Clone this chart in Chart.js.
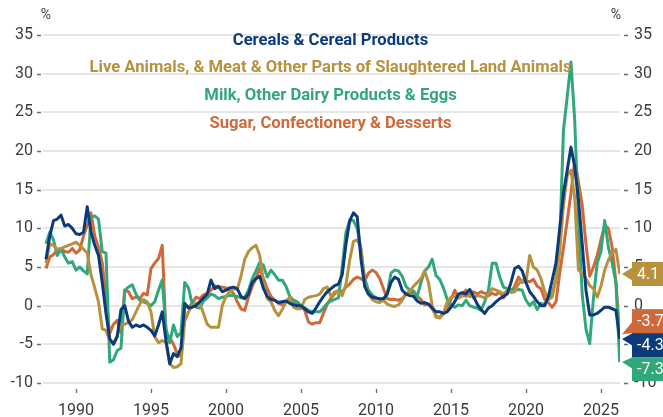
<!DOCTYPE html>
<html>
<head>
<meta charset="utf-8">
<script src="https://cdn.jsdelivr.net/npm/chart.js@4.4.1/dist/chart.umd.min.js"></script>
<style>
  html, body { margin: 0; padding: 0; background: #fff; }
</style>
</head>
<body>
<canvas id="chart" width="663" height="417"></canvas>
<script>
// Quarterly readings, first point = 1988 Q1, one row per year
const firstYear = 1988;

const seriesNames = [
    'Cereals & Cereal Products',
    'Live Animals, & Meat & Other Parts of Slaughtered Land Animals',
    'Milk, Other Dairy Products & Eggs',
    'Sugar, Confectionery & Desserts'
];

const seriesColors = ['#0c3b7c', '#b8913f', '#30a87a', '#d0693a'];

const cereals = [
    6, 9, 11, 11.2,   11.7, 10.3, 10.5, 10,   9.3, 9.2, 9.5, 12.8,   9.5, 7.8, 6.5, 3,
    -1, -4.3, -5, -4,   -0.5, 0, -2, -2.8,   -2.5, -2.7, -2.5, -2.8,   -3.2, -3.9, -2.5, -0.8,
    -4.5, -7.5, -6.2, -6.6,   -5.5, 0.3, -0.3, -0.2,   0, 0.5, 1, 1.5,   3.3, 2.2, 2.5, 1.8,
    2, 2.3, 2.4, 2.2,   1.2, 0.9, 1.5, 3,   3.5, 3.8, 2.2, 1.2,   0.8, 0.7, 0.4, 0.5,
    0.6, 0.3, 0.1, 0,   0, -0.4, -0.8, -1,   -0.3, 0.5, 1.2, 1.8,   2.2, 2.6, 2.8, 4,
    8, 11, 12, 11.5,   6, 2.5, 1.5, 1.1,   1, 0.9, 0.9, 1.5,   3, 3.7, 3.4, 2,
    1.5, 1.3, 1.2, 0.6,   0.3, 0.4, 0.2, -0.3,   -0.8, -0.8, -1, -0.8,   -0.2, 0.5, 1.5, 1.7,
    1.5, 2.1, 1.2, 0.2,   -0.5, -1, -0.3, 0,   0.5, 0.9, 1.2, 1.5,   3, 4.8, 5.1, 4.5,
    3, 1.8, 1.2, 0.5,   0, 0, 1.2, 3.3,   5.5, 10, 14.5, 17.5,   20.5, 18, 13.7, 8,
    2, -1.2, -1.2, -1,   -0.6, -0.2, -0.2, -0.4,   -0.6, -4.3
];

const liveAnimals = [
    5.5, 8, 7.8, 7.3,   7.4, 7.6, 7.8, 8,   8.2, 7.8, 7.3, 6.8,   4, 2.3, 0.5, -3,
    -3.2, -4.5, -4.9, -3.8,   -2.5, -2.4, -2.2, -1.8,   -0.8, 0.2, 0.8, 0.5,   -0.8, -4, -4.8, -4.5,
    -4.8, -7.5, -8, -7.9,   -7.5, -2, -0.8, 0,   0.3, 0.3, -1, -2.4,   -2.8, -2.8, -2.8, 0,
    1.2, 1.8, 2.2, 2.1,   3.8, 6, 7, 7.5,   7.8, 6.5, 3, 0.9,   0.5, -0.6, -1.3, -0.5,
    0.5, 1.1, -0.2, -0.4,   -0.4, 0.8, 1.1, 1.2,   1.3, 1.5, 2.2, 2.4,   1.2, 1.8, 1.8, 1.3,
    2.8, 5.9, 8.3, 8.5,   7.5, 2.5, 1.5, 0.8,   0.5, 0.4, 0.7, 0.2,   0, -0.1, 0.1, 0.7,
    1.5, 1.9, 2.5, 3,   3.5, 4.5, 3, 0,   -1.5, -1.5, -1, 0.5,   1.1, 1.2, 1, 1.3,
    1.2, 1.5, 1, 1.3,   1.2, 1, 1.5, 2.2,   2, 1.8, 1.5, 2,   1.7, 1.8, 2.8, 3.3,
    3, 6.5, 5, 4.6,   3.5, 1.8, 0.8, 1.1,   3.5, 7, 13, 16.8,   17.5, 14, 4.6, 4.2,
    3.5, 2.6, 2.2, 1.1,   2.5, 4.6, 5.9, 6.8,   7.3, 4.1
];

const dairy = [
    8, 9.5, 8.5, 6.5,   7.3, 6.3, 5.5, 5.7,   4.6, 5, 4.5, 4.1,   11.5, 11.6, 11.2, 7,
    6.8, -7.3, -7, -5.8,   -5.5, 2, 2.4, 2.7,   1.5, 0.7, 0.5, 0.3,   0, 0.5, 2, 3.3,
    -3, -4.8, -2.5, -4,   -3.5, 3, 2.3, 0.2,   -0.2, -0.3, 0.6, 1,   1.5, 1.3, 0.9, 1.1,
    1.2, 1.3, 1.3, 1.2,   1, 1.1, 2, 3.5,   4.5, 5.6, 5.2, 3.7,   4.6, 4, 3.3, 3.3,
    2.5, 1.2, 0.7, 0.5,   0, -0.3, -0.6, -0.8,   -0.8, -0.8, -0.3, 0.3,   0.6, 0.8, 1, 5,
    9.5, 11, 11, 10,   7.2, 3.5, 2, 1.4,   1, 0.8, 0.7, 1.5,   4.2, 4.6, 4.5, 3.8,
    2.5, 2, 1.9, 1.2,   3, 4.5, 5, 6,   3.9, 3.4, 2.3, 0.8,   0.1, -0.2, 0.1, 0,
    0.7, 0, -0.2, -0.3,   -0.6, 0.5, 2, 5.5,   5.5, 3.7, 2.4, 2.2,   2.1, 2, 2.1, 2,
    0.7, 0, 0.5, -0.5,   0.3, 0.2, 0.8, 1.6,   3.3, 8, 22.7, 27,   31.5, 24, 11, 1.5,
    -3, -4.9, 1, 5.5,   7, 11, 7.5, 5.5,   3, -7.3
];

const sugar = [
    4.8, 6.3, 6.6, 7.2,   7.4, 7, 6.9, 7.4,   6.8, 7.2, 9, 10.4,   12, 9, 7.6, 5.5,
    1, -3.6, -2.4, -1.9,   -3.5, 2, 1.8, 0.9,   1.1, 0.9, 1.6, 1.4,   4.8, 5.5, 6.1, 7.8,
    -3.6, -4.1, -5, -6.2,   -6.6, 0, -0.2, 0.3,   1.1, 0.9, 1.4, 1.6,   2, 2.6, 2.4, 2.4,
    2.3, 2, 1.6, 0.5,   -0.4, -0.6, 1.1, 2.5,   3.5, 4.8, 3.5, 2.2,   1.2, 0.7, 0.3, 0.1,
    0.5, 0.9, 0.4, 0.1,   0, -0.6, -2.1, -2.4,   -2.2, -2.2, -1, 0.2,   1, 1.5, 2, 1.8,
    2.4, 2.8, 3.4, 3.7,   3.5, 3.2, 4.2, 4.6,   4.3, 3.5, 2.2, 0.9,   0.8, 0.8, 0.7, 0.9,
    1.5, 1.7, 1.6, 1.2,   0.8, 0.1, 0.2, -0.4,   -1.3, -1.6, -1, -0.5,   0.8, 2, 1, 1.5,
    2, 1.2, 1.8, 1.5,   1.8, 1.6, 1.3, 1.6,   1.4, 1.8, 1, 1.9,   1.8, 2.5, 3.7, 3,
    3.2, 3.1, 3.4, 2.5,   2.2, 0.8, 0.4, -0.2,   0.5, 4.2, 7.5, 11,   14.5, 18.8, 16, 13,
    8, 3.8, 5, 6.5,   8.5, 10.4, 10, 7.5,   3, -3.7
];

const yearTicks = [1990, 1995, 2000, 2005, 2010, 2015, 2020, 2025];
const valueTicks = [-10, -5, 0, 5, 10, 15, 20, 25, 30, 35];

const allSeries = [cereals, liveAnimals, dairy, sugar];

function toPoints(values) {
    return values.map((v, i) => ({ x: firstYear + i * 0.25, y: v }));
}

const tickFont = { family: 'Roboto', size: 16 };
const tickColor = '#3c3c3c';

function setTicks(list) {
    return function (scale) {
        scale.ticks = list.map(v => ({ value: v }));
    };
}

// Legend text, tick dashes, % signs and end-value tags
const decorPlugin = {
    id: 'decor',
    afterDraw(chart) {
        const { ctx, chartArea } = chart;
        const xs = chart.scales.x;
        const ys = chart.scales.y;
        ctx.save();

        // small dashes beside the value labels
        ctx.strokeStyle = '#6a6a6a';
        ctx.lineWidth = 1.3;
        valueTicks.forEach(v => {
            const py = Math.round(ys.getPixelForValue(v)) + 0.5;
            ctx.beginPath();
            ctx.moveTo(chartArea.left - 6, py);
            ctx.lineTo(chartArea.left - 2, py);
            ctx.moveTo(chartArea.right + 4, py);
            ctx.lineTo(chartArea.right + 8, py);
            ctx.stroke();
        });
        yearTicks.forEach(v => {
            const px = Math.round(xs.getPixelForValue(v)) + 0.5;
            ctx.beginPath();
            ctx.moveTo(px, chartArea.bottom + 6);
            ctx.lineTo(px, chartArea.bottom + 10);
            ctx.stroke();
        });

        // unit markers
        ctx.fillStyle = tickColor;
        ctx.font = '14px Roboto';
        ctx.textAlign = 'center';
        ctx.textBaseline = 'middle';
        ctx.fillText('%', chartArea.left + 3, 15);
        ctx.fillText('%', chartArea.right - 4, 15);

        // legend as coloured text lines
        ctx.font = 'bold 17px Roboto';
        const longest = ctx.measureText(seriesNames[1]).width;
        const sx = 482 / longest;
        const cx = (chartArea.left + chartArea.right) / 2 - 1;
        const legendY = [41, 68, 96, 124];
        seriesNames.forEach((name, i) => {
            ctx.save();
            ctx.translate(cx, legendY[i]);
            ctx.scale(sx, 1);
            ctx.fillStyle = seriesColors[i];
            ctx.fillText(name, 0, 0);
            ctx.restore();
        });

        // end-value tags, pushed apart when they overlap
        const h = 24;
        const tags = allSeries.map((vals, i) => {
            const v = vals[vals.length - 1];
            return { v, color: seriesColors[i], yv: ys.getPixelForValue(v) };
        }).sort((a, b) => a.yv - b.yv);

        let groups = tags.map(t => ({ items: [t] }));
        const centre = g => g.items.reduce((s, t) => s + t.yv, 0) / g.items.length;
        let merged = true;
        while (merged) {
            merged = false;
            for (let i = 0; i < groups.length - 1; i++) {
                const a = groups[i], b = groups[i + 1];
                const aBottom = centre(a) + a.items.length * h / 2;
                const bTop = centre(b) - b.items.length * h / 2;
                if (bTop < aBottom) {
                    groups.splice(i, 2, { items: a.items.concat(b.items) });
                    merged = true;
                    break;
                }
            }
        }

        const boxLeft = chartArea.right + 12;
        const tipX = chartArea.right + 2;
        groups.forEach(g => {
            let top = centre(g) - g.items.length * h / 2;
            g.items.forEach(t => {
                const bottom = top + h;
                let b1 = Math.max(top, Math.min(t.yv, bottom) - 7);
                let b2 = Math.min(bottom, Math.max(t.yv, top) + 7);
                if (b2 - b1 < 12) {
                    if (b1 === top) b2 = top + 12; else b1 = bottom - 12;
                }
                ctx.fillStyle = t.color;
                ctx.fillRect(boxLeft, top, chart.width - boxLeft, h);
                ctx.beginPath();
                ctx.moveTo(boxLeft + 1, b1);
                ctx.lineTo(tipX, t.yv);
                ctx.lineTo(boxLeft + 1, b2);
                ctx.closePath();
                ctx.fill();
                ctx.fillStyle = '#ffffff';
                ctx.font = '16px Roboto';
                ctx.textAlign = 'left';
                ctx.fillText(t.v.toFixed(1), boxLeft + 5, top + h / 2 + 1);
                top = bottom;
            });
        });

        ctx.restore();
    }
};

new Chart(document.getElementById('chart'), {
    type: 'line',
    data: {
        datasets: allSeries.map((vals, i) => ({
            label: seriesNames[i],
            data: toPoints(vals),
            borderColor: seriesColors[i],
            borderWidth: 3,
            pointRadius: 0,
            tension: 0,
            borderJoinStyle: 'round',
            fill: false
        }))
    },
    options: {
        responsive: false,
        animation: false,
        layout: { padding: { top: 35, left: 0, right: 0, bottom: 0 } },
        plugins: {
            legend: { display: false },
            tooltip: { enabled: false }
        },
        scales: {
            x: {
                type: 'linear',
                min: 1987.8,
                max: 2026.27,
                afterBuildTicks: setTicks(yearTicks),
                afterFit: s => { s.height = 34; },
                grid: { display: false },
                border: { display: false },
                ticks: {
                    font: tickFont,
                    color: tickColor,
                    padding: 10,
                    maxRotation: 0,
                    autoSkip: false,
                    callback: v => String(v)
                }
            },
            y: {
                position: 'left',
                min: -10,
                max: 35,
                afterBuildTicks: setTicks(valueTicks),
                afterFit: s => { s.width = 43; },
                grid: { color: '#e6e6e6', lineWidth: 2, drawTicks: false },
                border: { display: false },
                ticks: { font: tickFont, color: tickColor, padding: 10 }
            },
            y2: {
                position: 'right',
                min: -10,
                max: 35,
                afterBuildTicks: setTicks(valueTicks),
                afterFit: s => { s.width = 43; },
                grid: { display: false, drawTicks: false },
                border: { display: false },
                ticks: { font: tickFont, color: tickColor, padding: 14 }
            }
        }
    },
    plugins: [decorPlugin]
});
</script>
</body>
</html>
